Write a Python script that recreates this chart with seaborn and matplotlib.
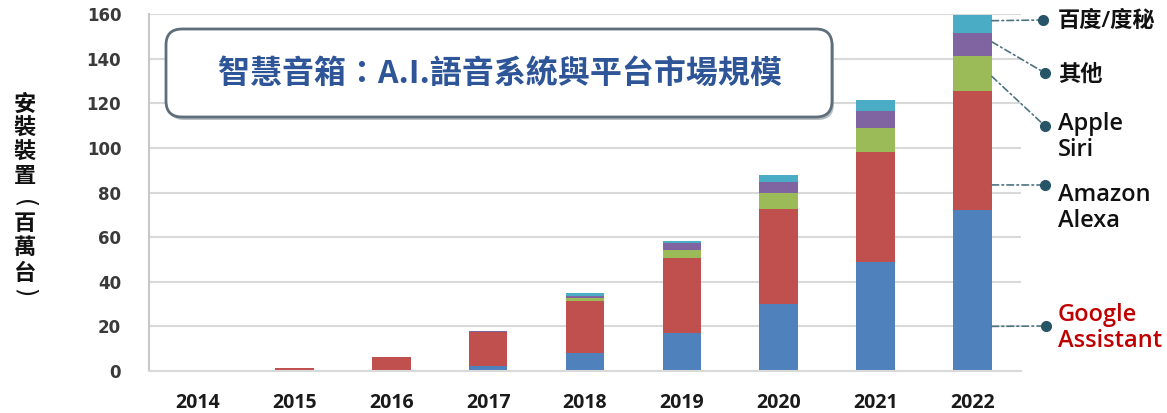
import numpy as np
import pandas as pd
import seaborn as sns
import matplotlib.pyplot as plt
from matplotlib.patches import FancyBboxPatch, ConnectionPatch
from matplotlib.lines import Line2D

# data (millions of installed devices)
years = ['2014', '2015', '2016', '2017', '2018', '2019', '2020', '2021', '2022']
google = [0, 0, 0, 2.4, 8, 17, 30, 49, 72]
amazon = [0, 1.3, 6.3, 15.3, 23.5, 33.5, 42.5, 49.3, 53.5]
apple = [0, 0, 0, 0, 1, 3.8, 7.1, 10.6, 15.8]
other = [0, 0, 0, 0.3, 1.3, 3.1, 5.2, 7.7, 10.3]
baidu = [0, 0, 0, 0, 1.2, 1, 3, 4.9, 7.9]

series = ['Google', 'Amazon', 'Apple', 'Other', 'Baidu']
colors = ['#4F81BD', '#C0504D', '#9BBB59', '#8064A2', '#4BACC6']

df = pd.DataFrame({'year': years, 'Google': google, 'Amazon': amazon,
                   'Apple': apple, 'Other': other, 'Baidu': baidu})
# cumulative tops for stacking
cum = df[series].cumsum(axis=1)
for s in series:
    df['top_' + s] = cum[s]

sns.set_style('white')
plt.rcParams['font.family'] = ['Open Sans', 'Noto Sans CJK TC', 'DejaVu Sans']
cjk = ['Noto Sans CJK TC', 'DejaVu Sans']

W, H = 1167, 413
fig = plt.figure(figsize=(W / 100, H / 100), dpi=100)
ax = fig.add_axes([149 / W, 1 - 371 / H, (1021 - 149) / W, (371 - 14) / H])

# draw from the tallest layer down so lower ones cover the upper ones
for s, c in reversed(list(zip(series, colors))):
    sns.barplot(data=df, x='year', y='top_' + s, color=c, saturation=1,
                width=0.4, linewidth=0, ax=ax)

ax.set_ylim(0, 160)
ax.set_xlim(-0.5, 8.5)
ax.set_yticks(np.arange(0, 161, 20))
ax.set_xlabel('')
ax.set_ylabel('')
ax.yaxis.grid(True, color='#D9D9D9', lw=1.5)
ax.set_axisbelow(True)
for sp in ['top', 'right']:
    ax.spines[sp].set_visible(False)
ax.spines['left'].set_color('#C8C8C8')
ax.spines['left'].set_linewidth(1.5)
ax.spines['bottom'].set_color('#D9D9D9')
ax.spines['bottom'].set_linewidth(1.5)

ax.tick_params(axis='y', length=7, width=1.5, color='#D9D9D9', pad=13,
               labelsize=12, labelcolor='#3A3A3A')
for t in ax.get_yticklabels():
    t.set_fontfamily('DejaVu Sans')
    t.set_fontweight('bold')
ax.tick_params(axis='x', which='major', length=0, pad=16, labelsize=14,
               labelcolor='#1A1A1A')
for t in ax.get_xticklabels():
    t.set_fontweight('bold')
ax.set_xticks(np.arange(-0.5, 9, 1), minor=True)
ax.tick_params(axis='x', which='minor', length=3, width=1.2, color='#BBBBBB')

# y label, one upright character at a time; brackets turned sideways
ylab_chars = ['安', '裝', '裝', '置', '(', '百', '萬', '台', ')']
ylab_pos = [104, 128, 152, 177, 204, 223, 248, 273, 293]
for ch, yp in zip(ylab_chars, ylab_pos):
    if ch in '()':
        fig.text(25 / W, 1 - yp / H, ch, ha='center', va='center', rotation=-90,
                 fontsize=17, color='#111111', family='DejaVu Sans')
    else:
        fig.text(25 / W, 1 - yp / H, ch, ha='center', va='center',
                 fontsize=16, fontweight='bold', color='#111111', family=cjk)

# title box
bx, by, bw, bh = 166 / 100, (H - 117) / 100, 666 / 100, 88 / 100
shadow = FancyBboxPatch((bx + 0.02, by - 0.03), bw, bh,
                        boxstyle='round,pad=0,rounding_size=0.16',
                        transform=fig.dpi_scale_trans, facecolor='#A8B0B6',
                        edgecolor='none', alpha=0.8, zorder=4)
box = FancyBboxPatch((bx, by), bw, bh, boxstyle='round,pad=0,rounding_size=0.16',
                     transform=fig.dpi_scale_trans, facecolor='white',
                     edgecolor='#5E6E7A', lw=2, zorder=5)
fig.add_artist(shadow)
fig.add_artist(box)
fig.text(500 / W, 1 - 74 / H, '智慧音箱：A.I.語音系統與平台市場規模', ha='center',
         va='center', fontsize=23, fontweight='bold', color='#2E5597', zorder=6,
         family=cjk)

# right-hand labels with dash-dot leaders from the 2022 bar
teal = '#255566'
leaders = [
    ('百度/度秘', 157, (1043, 20), (1058, 21), '#111111'),
    ('其他', 147.5, (1045, 73), (1058, 75), '#111111'),
    ('Apple\nSiri', 132, (1045, 126), (1058, 137), '#111111'),
    ('Amazon\nAlexa', 83.4, (1045, 185), (1058, 208), '#111111'),
    ('Google\nAssistant', 20, (1046, 326), (1058, 328), '#C00000'),
]
for label, ystart, dot, tpos, tc in leaders:
    dpos = (dot[0] / W, 1 - dot[1] / H)
    con = ConnectionPatch(xyA=(8.2, ystart), coordsA=ax.transData,
                          xyB=dpos, coordsB=fig.transFigure,
                          color='#4E7380', lw=1.2, linestyle=(0, (4, 2, 1, 2)))
    fig.add_artist(con)
    fig.add_artist(Line2D([dpos[0]], [dpos[1]], marker='o', ms=7, color=teal,
                          transform=fig.transFigure))
    fs = 16 if label in ('百度/度秘', '其他') else 17
    fig.text(tpos[0] / W, 1 - tpos[1] / H, label, ha='left', va='center',
             fontsize=fs, fontweight='semibold', color=tc, linespacing=1.08)

fig.savefig('out.png', dpi=100)
